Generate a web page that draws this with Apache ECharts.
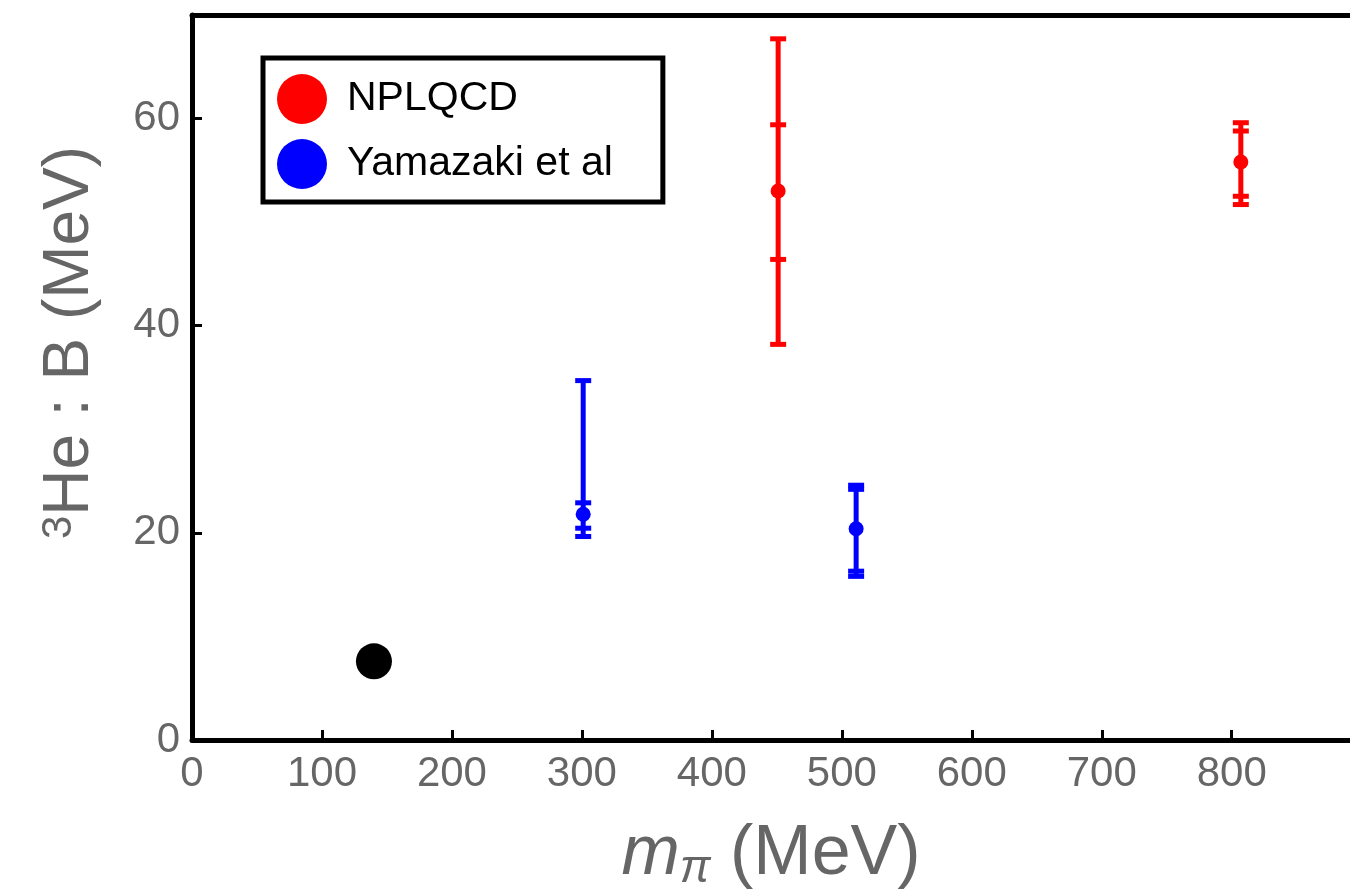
<!DOCTYPE html>
<html>
<head>
<meta charset="utf-8">
<script src="https://cdn.jsdelivr.net/npm/echarts@6/dist/echarts.min.js"></script>
<style>
html,body{margin:0;padding:0;background:#fff;}
#chart{width:1350px;height:894px;}
</style>
</head>
<body>
<div id="chart"></div>
<script>
// ---- data ----
const xTicks = [0, 100, 200, 300, 400, 500, 600, 700, 800];
const yTicks = [0, 20, 40, 60];

// NPLQCD: pion mass, central value, inner (stat) band, outer (total) band
const nplqcdX       = [451, 807];
const nplqcdY       = [53.0, 55.8];
const nplqcdInnerLo = [46.4, 52.5];
const nplqcdInnerHi = [59.4, 58.8];
const nplqcdOuterLo = [38.2, 51.7];
const nplqcdOuterHi = [67.7, 59.6];

// Yamazaki et al
const yamX       = [301, 511];
const yamY       = [21.8, 20.4];
const yamInnerLo = [20.45, 16.3];
const yamInnerHi = [22.9, 24.2];
const yamOuterLo = [19.65, 15.8];
const yamOuterHi = [34.7, 24.6];

// physical point
const physX = [140];
const physY = [7.6];

function rows(x, y, il, ih, ol, oh) {
  return x.map((v, i) => [v, y[i], il[i], ih[i], ol[i], oh[i]]);
}

function renderErr(params, api) {
  const x = api.value(0);
  const c = api.coord([x, api.value(1)]);
  const pil = api.coord([x, api.value(2)]);
  const pih = api.coord([x, api.value(3)]);
  const pol = api.coord([x, api.value(4)]);
  const poh = api.coord([x, api.value(5)]);
  const color = api.visual('color');
  const hw = 8;
  const lw = 5;
  const cap = (p) => ({
    type: 'line',
    shape: { x1: p[0] - hw, y1: p[1], x2: p[0] + hw, y2: p[1] },
    style: { stroke: color, lineWidth: lw }
  });
  return {
    type: 'group',
    children: [
      { type: 'line', shape: { x1: c[0], y1: pol[1], x2: c[0], y2: poh[1] }, style: { stroke: color, lineWidth: lw } },
      cap(pol), cap(poh), cap(pil), cap(pih),
      { type: 'circle', shape: { cx: c[0], cy: c[1], r: 7.5 }, style: { fill: color } }
    ]
  };
}

const FONT = "'Liberation Sans', Arial, Helvetica, sans-serif";
const GRAY = '#666666';

const chart = echarts.init(document.getElementById('chart'), null, { renderer: 'canvas' });
chart.setOption({
  animation: false,
  backgroundColor: '#ffffff',
  grid: { left: 192, right: 0, top: 15, bottom: 154, containLabel: false, outerBoundsMode: 'none' },
  legend: {
    orient: 'vertical',
    left: 263,
    top: 58,
    padding: [16, 50, 13, 14],
    borderColor: '#000',
    borderWidth: 5,
    backgroundColor: '#fff',
    itemWidth: 50,
    itemHeight: 50,
    itemGap: 15,
    data: [
      { name: 'NPLQCD', icon: 'circle' },
      { name: 'Yamazaki et al', icon: 'circle' }
    ],
    textStyle: { fontFamily: FONT, fontSize: 41, color: '#000', padding: [0, 0, 0, 15] }
  },
  xAxis: [
    {
      type: 'value',
      min: 0,
      max: 891,
      interval: 100,
      position: 'bottom',
      splitLine: { show: false },
      axisLine: { show: true, onZero: false, lineStyle: { color: '#000', width: 5 } },
      axisTick: { show: true, inside: true, length: 10, customValues: xTicks, lineStyle: { color: '#000', width: 3 } },
      axisLabel: { show: true, customValues: xTicks, fontFamily: FONT, fontSize: 42, color: GRAY, margin: 13 },
      name: '{i|m}{s|π} (MeV)',
      nameLocation: 'middle',
      nameGap: 78,
      nameTextStyle: {
        fontFamily: FONT, fontSize: 70, color: GRAY,
        rich: {
          i: { fontFamily: FONT, fontSize: 70, fontStyle: 'italic', color: GRAY },
          s: { fontFamily: FONT, fontSize: 46, fontStyle: 'italic', color: GRAY, verticalAlign: 'bottom', padding: [28, 0, 0, 0] }
        }
      }
    },
    {
      type: 'value',
      min: 0,
      max: 891,
      position: 'top',
      splitLine: { show: false },
      axisLine: { show: true, onZero: false, lineStyle: { color: '#000', width: 5 } },
      axisTick: { show: false },
      axisLabel: { show: false }
    }
  ],
  yAxis: {
    type: 'value',
    min: 0,
    max: 70,
    interval: 20,
    splitLine: { show: false },
    axisLine: { show: true, onZero: false, lineStyle: { color: '#000', width: 5 } },
    axisTick: { show: true, inside: true, length: 10, customValues: yTicks, lineStyle: { color: '#000', width: 3 } },
    axisLabel: { show: true, customValues: yTicks, fontFamily: FONT, fontSize: 42, color: GRAY, margin: 12 },
    name: '{sup|3}He : B (MeV)',
    nameLocation: 'middle',
    nameGap: 90,
    nameRotate: 90,
    nameTextStyle: {
      fontFamily: FONT, fontSize: 64, color: GRAY,
      padding: [0, 0, 0, 70],
      rich: {
        sup: { fontFamily: FONT, fontSize: 42, color: GRAY, verticalAlign: 'top', padding: [0, 0, 22, 0] }
      }
    }
  },
  series: [
    {
      name: 'NPLQCD',
      type: 'custom',
      renderItem: renderErr,
      itemStyle: { color: '#ff0000' },
      encode: { x: 0, y: [1, 2, 3, 4, 5] },
      data: rows(nplqcdX, nplqcdY, nplqcdInnerLo, nplqcdInnerHi, nplqcdOuterLo, nplqcdOuterHi),
      z: 3
    },
    {
      name: 'Yamazaki et al',
      type: 'custom',
      renderItem: renderErr,
      itemStyle: { color: '#0000ff' },
      encode: { x: 0, y: [1, 2, 3, 4, 5] },
      data: rows(yamX, yamY, yamInnerLo, yamInnerHi, yamOuterLo, yamOuterHi),
      z: 3
    },
    {
      name: 'Physical point',
      type: 'scatter',
      symbol: 'circle',
      symbolSize: 36,
      itemStyle: { color: '#000000', opacity: 1 },
      data: physX.map((v, i) => [v, physY[i]]),
      z: 3
    }
  ]
});
</script>
</body>
</html>
